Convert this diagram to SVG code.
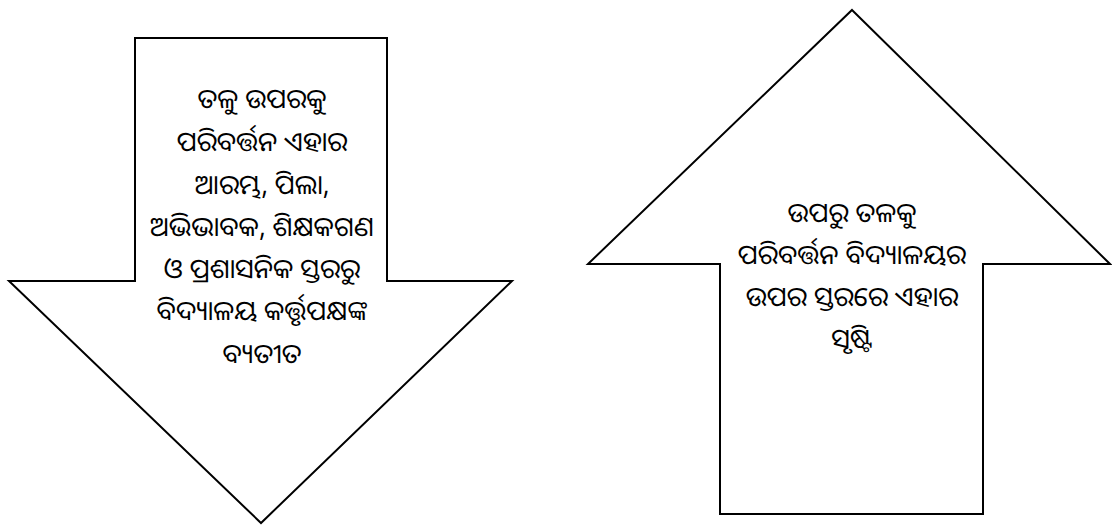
<svg xmlns="http://www.w3.org/2000/svg" width="1112" height="527" viewBox="0 0 1112 527">
<style>
.shape{fill:#fff;stroke:#000;stroke-width:2;stroke-linejoin:miter}
.t{font-family:"Noto Sans Oriya","Noto Sans","DejaVu Sans",sans-serif;font-size:27px;fill:#000;text-anchor:middle;dominant-baseline:central}
</style>
<rect width="1112" height="527" fill="#fff"/>
<g id="down-arrow">
<polygon class="shape" points="135,38 387,38 387,281 512,281 261,523 9,281 135,281"/>
<text class="t" x="262" y="97">ତଳୁ ଉପରକୁ</text>
<text class="t" x="262" y="140">ପରିବର୍ତ୍ତନ ଏହାର</text>
<text class="t" x="262" y="183">ଆରମ୍ଭ, ପିଲା,</text>
<text class="t" x="262" y="225">ଅଭିଭାବକ, ଶିକ୍ଷକଗଣ</text>
<text class="t" x="262" y="267">ଓ ପ୍ରଶାସନିକ ସ୍ତରରୁ</text>
<text class="t" x="262" y="309">ବିଦ୍ୟାଳୟ କର୍ତ୍ତୃପକ୍ଷଙ୍କ</text>
<text class="t" x="262" y="352">ବ୍ୟତୀତ</text>
</g>
<g id="up-arrow">
<polygon class="shape" points="852,10 1110,264 983,264 983,514 720,514 720,264 588,264"/>
<text class="t" x="852" y="211">ଉପରୁ ତଳକୁ</text>
<text class="t" x="852" y="253">ପରିବର୍ତ୍ତନ ବିଦ୍ୟାଳୟର</text>
<text class="t" x="852" y="295">ଉପର ସ୍ତରରେ ଏହାର</text>
<text class="t" x="852" y="337">ସୃଷ୍ଟି</text>
</g>
<g id="connectors"></g>
</svg>
